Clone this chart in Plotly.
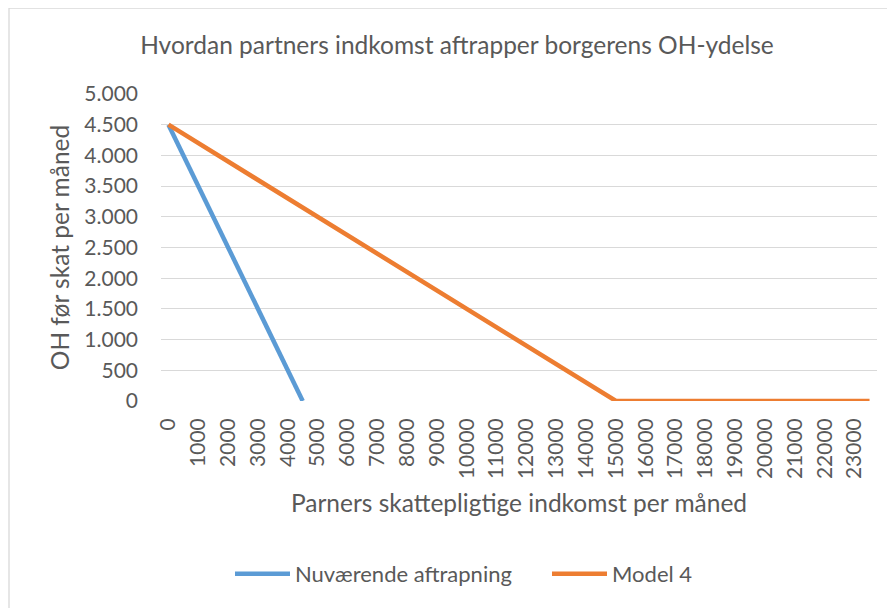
import plotly.graph_objects as go

# Data
income_current = [0, 4500]
oh_current = [4500, 0]
income_model4 = [0, 15000, 23500]
oh_model4 = [4500, 0, 0]
x_ticks = list(range(0, 24000, 1000))
y_ticks = list(range(0, 5500, 500))

TEXT = "#595959"
GRID = "#D9D9D9"
FONT = "Lato, Carlito, Calibri, sans-serif"

fig = go.Figure()
fig.add_trace(go.Scatter(x=income_current, y=oh_current, mode="lines",
                         name="Nuværende aftrapning",
                         line=dict(color="#5B9BD5", width=4.5)))
fig.add_trace(go.Scatter(x=income_model4, y=oh_model4, mode="lines",
                         name="Model 4",
                         line=dict(color="#ED7D31", width=4.5)))

OFF = 8  # page body margin
W, H = 895 - OFF, 608 - OFF
L, R, T, B = 161 - OFF, 877 - OFF, 94 - OFF, 401 - OFF
pw, ph = R - L, B - T

def px_x(px):
    return (px - OFF - L) / pw

def px_y(py):
    return (B - (py - OFF)) / ph

fig.update_layout(
    width=W, height=H,
    margin=dict(l=L, r=W - R, t=T, b=H - B, autoexpand=False),
    paper_bgcolor="white", plot_bgcolor="white",
    separators=",.",
    font=dict(family=FONT, color=TEXT, size=21),
    title=dict(text="Hvordan partners indkomst aftrapper borgerens OH-ydelse",
               x=(457 - OFF) / W, xref="container", xanchor="center",
               y=1 - (45 - OFF) / H, yref="container", yanchor="middle",
               font=dict(size=24.5, color=TEXT, family=FONT)),
    showlegend=True,
    legend=dict(orientation="h", x=px_x(230), xanchor="left",
                y=px_y(574), yanchor="middle",
                font=dict(size=22, color=TEXT, family=FONT),
                itemwidth=55, entrywidth=247, bgcolor="rgba(0,0,0,0)"),
    xaxis=dict(range=[-250, 23750], tickvals=x_ticks,
               ticktext=[str(v) for v in x_ticks],
               tickangle=-90, showgrid=False, zeroline=False,
               showline=False, ticks="", ticklabelstandoff=12,
               tickfont=dict(size=21, color=TEXT),
               title=dict(text="Parners skattepligtige indkomst per måned",
                          font=dict(size=24.5, color=TEXT), standoff=16)),
    yaxis=dict(range=[0, 5000], tickvals=y_ticks, tickformat=",d",
               showgrid=True, gridcolor=GRID, gridwidth=1.3,
               zeroline=False, showline=False, ticks="",
               ticklabelstandoff=22,
               tickfont=dict(size=21, color=TEXT),
               title=dict(text="OH før skat per måned",
                          font=dict(size=24.5, color=TEXT), standoff=7)),
    shapes=[dict(type="rect", xref="paper", yref="paper",
                 x0=px_x(9), x1=px_x(900), y0=px_y(612), y1=px_y(8),
                 line=dict(color=GRID, width=1.3), layer="below")],
)

fig.write_html("out.html")
